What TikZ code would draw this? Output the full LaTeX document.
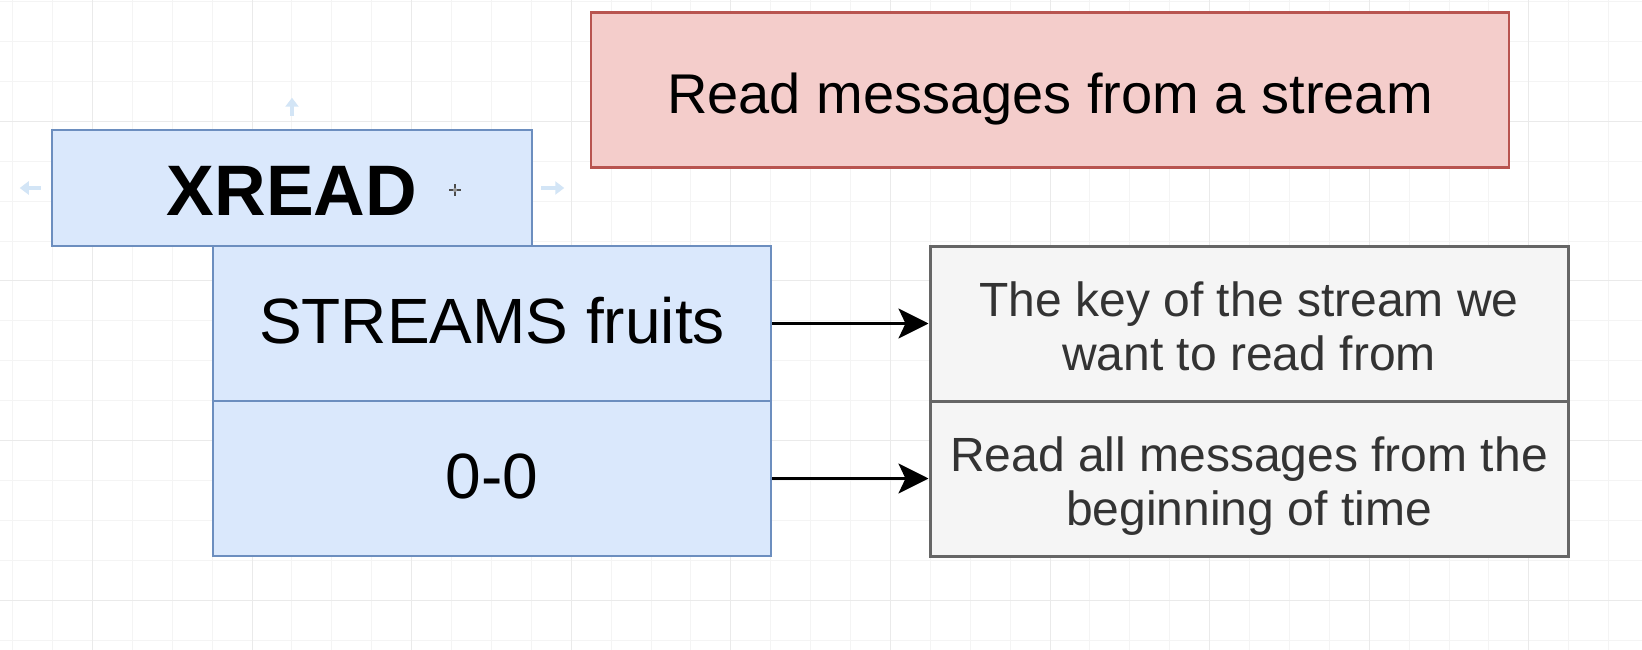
\documentclass[tikz,border=0pt]{standalone}
\usepackage{fontspec}
\setmainfont{Liberation Sans}
\usetikzlibrary{arrows.meta}
\definecolor{blueFill}{HTML}{DAE8FC}
\definecolor{blueLine}{HTML}{6C8EBF}
\definecolor{redFill}{HTML}{F4CDCB}
\definecolor{redLine}{HTML}{B85450}
\definecolor{grayFill}{HTML}{F5F5F5}
\definecolor{grayLine}{HTML}{666666}
\definecolor{grayText}{HTML}{333333}
\definecolor{gridMinor}{HTML}{F4F4F4}
\definecolor{gridMajor}{HTML}{EAEAEA}
\definecolor{hint}{HTML}{D3E5F6}
\begin{document}
\begin{tikzpicture}[x=1pt,y=-1pt,
  bluebox/.style={draw=blueLine, fill=blueFill, line width=2.5pt, inner sep=0pt, text=black, text depth=0pt},
  redbox/.style={draw=redLine, fill=redFill, line width=2.5pt, inner sep=0pt, text=black, text depth=0pt},
  graybox/.style={draw=grayLine, fill=grayFill, line width=3pt, inner sep=0pt},
  desctext/.style={inner sep=0pt, text=grayText, font=\fontsize{48}{53}\selectfont, anchor=base},
  conn/.style={draw=black, line width=3pt, -{Stealth[length=30pt,width=30pt,inset=7pt]}},
  hintarrow/.style={draw=hint, line width=4pt, -{Triangle[length=9pt,width=13pt]}},
  bigfont/.style={font=\fontsize{64}{72}\selectfont}
]
\useasboundingbox (0,0) rectangle (1642,650);
\fill[white] (0,0) rectangle (1642,650);
% grid
\foreach \k in {0,...,41} {
  \pgfmathsetmacro\xx{12.6+39.9*\k}
  \draw[gridMinor, line width=1pt] (\xx,0) -- (\xx,650);
}
\foreach \k in {0,...,16} {
  \pgfmathsetmacro\yy{640-39.9*\k}
  \draw[gridMinor, line width=1pt] (0,\yy) -- (1642,\yy);
}
\foreach \k in {2,6,...,38} {
  \pgfmathsetmacro\xx{12.6+39.9*\k}
  \draw[gridMajor, line width=1pt] (\xx,0) -- (\xx,650);
}
\foreach \k in {1,5,9,13} {
  \pgfmathsetmacro\yy{640-39.9*\k}
  \draw[gridMajor, line width=1pt] (0,\yy) -- (1642,\yy);
}

% nodes
\node[bluebox, minimum width=480pt, minimum height=116pt, text height=54pt, font=\fontsize{71.5}{80}\selectfont\bfseries] (xread) at (292,188) {XREAD};
\node[bluebox, bigfont, minimum width=558pt, minimum height=155pt, text height=39pt] (streams) at (492,323.5) {STREAMS fruits};
\node[bluebox, bigfont, minimum width=558pt, minimum height=155pt, text height=39pt] (zero) at (492,478.5) {0-0};
\node[graybox, minimum width=638pt, minimum height=155pt] (keydesc) at (1249,323.5) {};
\node[desctext] (keyA) at ([yshift=6.8pt]keydesc.center) {The key of the stream we};
\node[desctext] (keyB) at ([yshift=-46.6pt]keydesc.center) {want to read from};
\node[graybox, minimum width=638pt, minimum height=155pt] (alldesc) at (1249,478.5) {};
\node[desctext] (allA) at ([yshift=6.8pt]alldesc.center) {Read all messages from the};
\node[desctext] (allB) at ([yshift=-46.6pt]alldesc.center) {beginning of time};
\node[redbox, font=\fontsize{56}{62}\selectfont, minimum width=918pt, minimum height=155pt, text height=48pt] (title) at (1050,90) {Read messages from a stream};

% connectors
\draw[conn] (streams.east) -- (keydesc.west);
\draw[conn] (zero.east) -- (alldesc.west);

% hover hints around XREAD
\draw[hintarrow] ([yshift=13pt]xread.north) -- ([yshift=31pt]xread.north);
\draw[hintarrow] ([xshift=-10pt]xread.west) -- ([xshift=-31pt]xread.west);
\draw[hintarrow] ([xshift=8pt]xread.east) -- ([xshift=31pt]xread.east);
% cursor
\coordinate (cur) at (455,190);
\draw[black!70, line width=1.3pt] ([xshift=-6pt]cur) -- ([xshift=6pt]cur) ([yshift=-6pt]cur) -- ([yshift=6pt]cur);
\fill[black!40] (cur) circle (2pt);
\end{tikzpicture}
\end{document}
